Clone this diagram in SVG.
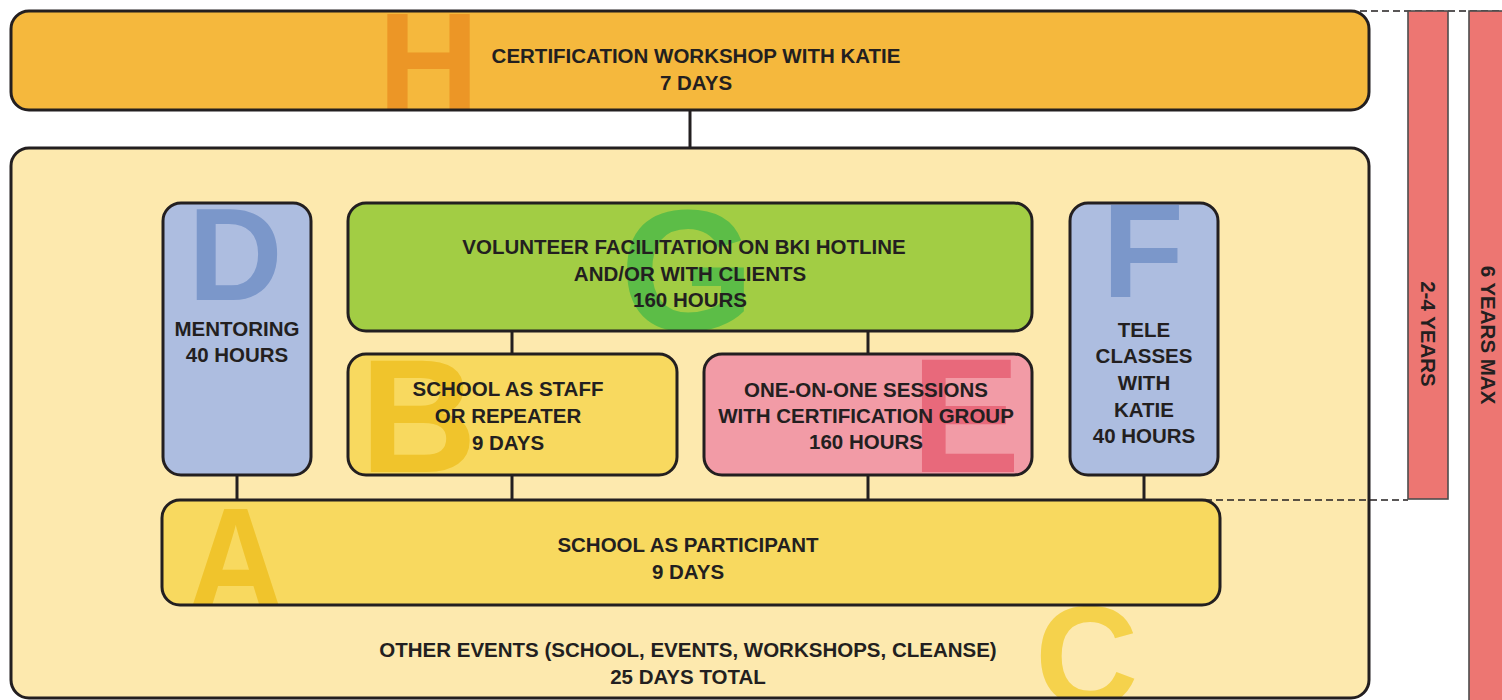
<svg xmlns="http://www.w3.org/2000/svg" width="1502" height="700" viewBox="0 0 1502 700">
<style>
.box{stroke:#231f20;stroke-width:3}
.lbl{font-family:"Liberation Sans",Arial,Helvetica,sans-serif;font-weight:bold;font-size:20.5px;fill:#231f20;text-anchor:middle}
.big{font-family:"Liberation Sans",Arial,Helvetica,sans-serif;font-weight:bold}
.conn{stroke:#231f20;stroke-width:3;fill:none}
.dash{stroke:#231f20;stroke-width:1.6;stroke-dasharray:7 4;fill:none}
.bar{fill:#ed7672;stroke:#4d4d4d;stroke-width:1.6}
</style>
<defs>
<clipPath id="cH"><rect x="11" y="11" width="1358" height="99" rx="18"/></clipPath>
<clipPath id="cC"><rect x="11" y="148" width="1358" height="550" rx="18"/></clipPath>
<clipPath id="cD"><rect x="163" y="203" width="148" height="272" rx="18"/></clipPath>
<clipPath id="cG"><rect x="348" y="203" width="684" height="128" rx="18"/></clipPath>
<clipPath id="cB"><rect x="348" y="354" width="329" height="121" rx="18"/></clipPath>
<clipPath id="cE"><rect x="704" y="354" width="328" height="121" rx="18"/></clipPath>
<clipPath id="cF"><rect x="1070" y="203" width="148" height="272" rx="18"/></clipPath>
<clipPath id="cA"><rect x="162" y="500" width="1058" height="105" rx="18"/></clipPath>
</defs>

<g id="connectors">
<line class="conn" x1="690" y1="110" x2="690" y2="148"/>
</g>

<g id="node-H">
<rect x="11" y="11" width="1358" height="99" rx="18" fill="#f5b83d"/>
<text class="big" x="378" y="110" font-size="140" fill="#ec9626" clip-path="url(#cH)">H</text>
<rect class="box" x="11" y="11" width="1358" height="99" rx="18" fill="none"/>
<text class="lbl" x="696" y="63">CERTIFICATION WORKSHOP WITH KATIE</text>
<text class="lbl" x="696" y="90">7 DAYS</text>
</g>

<g id="node-C">
<rect x="11" y="148" width="1358" height="550" rx="18" fill="#fde9ae"/>
<text class="big" x="1035" y="706" font-size="143" fill="#f5d24c" clip-path="url(#cC)">C</text>
<rect class="box" x="11" y="148" width="1358" height="550" rx="18" fill="none"/>
<text class="lbl" x="688" y="657">OTHER EVENTS (SCHOOL, EVENTS, WORKSHOPS, CLEANSE)</text>
<text class="lbl" x="688" y="684">25 DAYS TOTAL</text>
</g>

<g id="inner-connectors">
<line class="conn" x1="512" y1="331" x2="512" y2="354"/>
<line class="conn" x1="868" y1="331" x2="868" y2="354"/>
<line class="conn" x1="237" y1="475" x2="237" y2="500"/>
<line class="conn" x1="512" y1="475" x2="512" y2="500"/>
<line class="conn" x1="868" y1="475" x2="868" y2="500"/>
<line class="conn" x1="1144" y1="475" x2="1144" y2="500"/>
</g>

<g id="node-D">
<rect x="163" y="203" width="148" height="272" rx="18" fill="#adbde0"/>
<text class="big" x="188" y="300" font-size="131" fill="#7b97ca" clip-path="url(#cD)">D</text>
<rect class="box" x="163" y="203" width="148" height="272" rx="18" fill="none"/>
<text class="lbl" x="237" y="336">MENTORING</text>
<text class="lbl" x="237" y="362">40 HOURS</text>
</g>

<g id="node-G">
<rect x="348" y="203" width="684" height="128" rx="18" fill="#a2cd44"/>
<text class="big" x="620" y="330" font-size="173" fill="#5cbd47" clip-path="url(#cG)">G</text>
<rect class="box" x="348" y="203" width="684" height="128" rx="18" fill="none"/>
<text class="lbl" x="684" y="254">VOLUNTEER FACILITATION ON BKI HOTLINE</text>
<text class="lbl" x="690" y="281">AND/OR WITH CLIENTS</text>
<text class="lbl" x="690" y="307">160 HOURS</text>
</g>

<g id="node-B">
<rect x="348" y="354" width="329" height="121" rx="18" fill="#f8d95f"/>
<text class="big" x="360" y="472" font-size="162" fill="#f0c42c" clip-path="url(#cB)">B</text>
<rect class="box" x="348" y="354" width="329" height="121" rx="18" fill="none"/>
<text class="lbl" x="508" y="396">SCHOOL AS STAFF</text>
<text class="lbl" x="508" y="423">OR REPEATER</text>
<text class="lbl" x="508" y="450">9 DAYS</text>
</g>

<g id="node-E">
<rect x="704" y="354" width="328" height="121" rx="18" fill="#f29ba6"/>
<text class="big" x="911" y="472" font-size="164" fill="#e8697b" clip-path="url(#cE)">E</text>
<rect class="box" x="704" y="354" width="328" height="121" rx="18" fill="none"/>
<text class="lbl" x="866" y="397">ONE-ON-ONE SESSIONS</text>
<text class="lbl" x="866" y="423">WITH CERTIFICATION GROUP</text>
<text class="lbl" x="866" y="449">160 HOURS</text>
</g>

<g id="node-F">
<rect x="1070" y="203" width="148" height="272" rx="18" fill="#adbde0"/>
<text class="big" x="1102" y="297" font-size="134" fill="#7b97ca" clip-path="url(#cF)">F</text>
<rect class="box" x="1070" y="203" width="148" height="272" rx="18" fill="none"/>
<text class="lbl" x="1144" y="337">TELE</text>
<text class="lbl" x="1144" y="363">CLASSES</text>
<text class="lbl" x="1144" y="390">WITH</text>
<text class="lbl" x="1144" y="417">KATIE</text>
<text class="lbl" x="1144" y="443">40 HOURS</text>
</g>

<g id="node-A">
<rect x="162" y="500" width="1058" height="105" rx="18" fill="#f8d95f"/>
<g clip-path="url(#cA)">
<text class="big" transform="translate(187 612) scale(0.9 1)" x="0" y="0" font-size="150" fill="#f0c42c">A</text>
</g>
<rect class="box" x="162" y="500" width="1058" height="105" rx="18" fill="none"/>
<text class="lbl" x="688" y="552">SCHOOL AS PARTICIPANT</text>
<text class="lbl" x="688" y="579">9 DAYS</text>
</g>

<g id="guides">
<line class="dash" x1="1360" y1="11" x2="1502" y2="11"/>
<line class="dash" x1="1205" y1="500" x2="1408" y2="500"/>
</g>

<g id="bar-24">
<rect class="bar" x="1408" y="11" width="40" height="488"/>
<text class="lbl" transform="translate(1420.5 334) rotate(90)">2-4 YEARS</text>
</g>

<g id="bar-6">
<rect class="bar" x="1469" y="11" width="45" height="700"/>
<text class="lbl" transform="translate(1481 335) rotate(90)">6 YEARS MAX</text>
</g>
</svg>
